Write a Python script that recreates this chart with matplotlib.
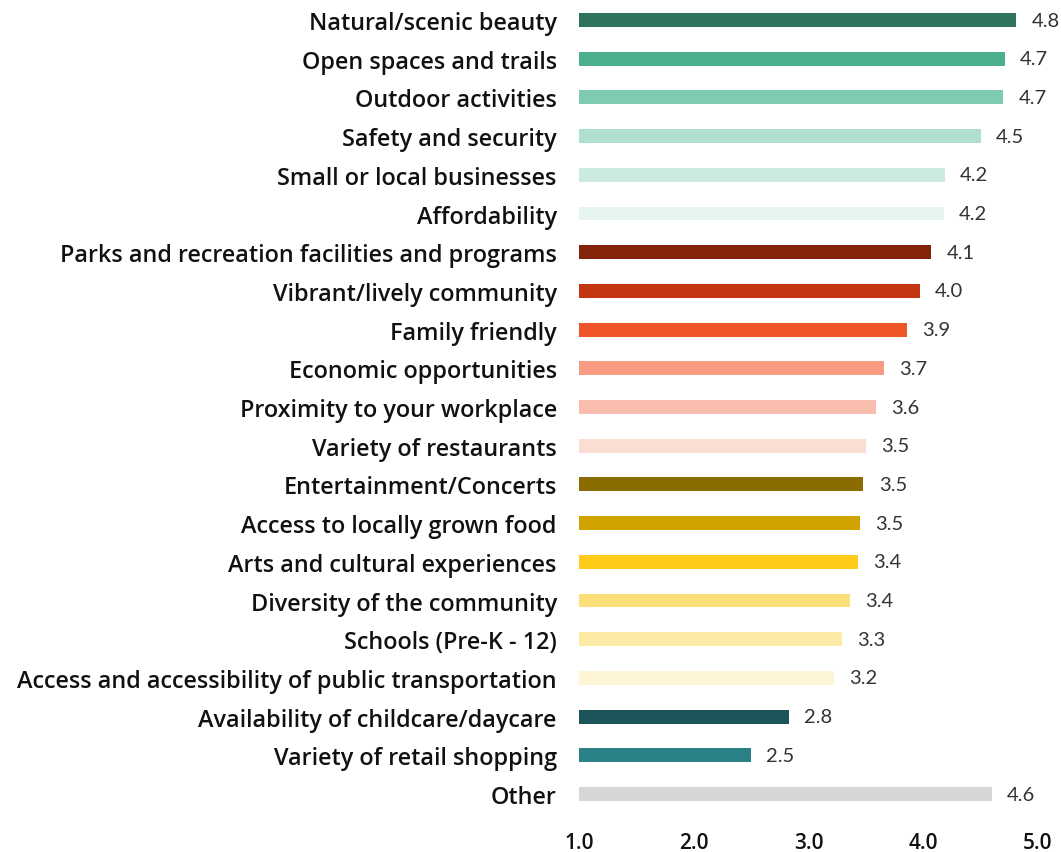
import matplotlib
matplotlib.use("Agg")
import matplotlib.pyplot as plt

categories = [
    "Natural/scenic beauty",
    "Open spaces and trails",
    "Outdoor activities",
    "Safety and security",
    "Small or local businesses",
    "Affordability",
    "Parks and recreation facilities and programs",
    "Vibrant/lively community",
    "Family friendly",
    "Economic opportunities",
    "Proximity to your workplace",
    "Variety of restaurants",
    "Entertainment/Concerts",
    "Access to locally grown food",
    "Arts and cultural experiences",
    "Diversity of the community",
    "Schools (Pre-K - 12)",
    "Access and accessibility of public transportation",
    "Availability of childcare/daycare",
    "Variety of retail shopping",
    "Other",
]

scores = [
    4.81, 4.71, 4.70, 4.50, 4.19, 4.18,
    4.07, 3.97, 3.86, 3.66, 3.59, 3.50,
    3.48, 3.45, 3.43, 3.36, 3.29, 3.22,
    2.83, 2.50, 4.60,
]

bar_colors = [
    "#2F735F", "#4AAE8F", "#7FCAB3", "#AFDFD0", "#CCEBE0", "#E5F4EF",
    "#84240A", "#C3360F", "#F0552A", "#F89B82", "#F8BDAC", "#FADED4",
    "#8A6C00", "#D0A300", "#FDCB18", "#FDDF7A", "#FDEBA5", "#FEF5D4",
    "#1C5459", "#2A8288", "#D6D6D6",
]

x_ticks = [1.0, 2.0, 3.0, 4.0, 5.0]

plt.rcParams["font.family"] = ["Open Sans", "DejaVu Sans"]

fig = plt.figure(figsize=(10.61, 8.53), dpi=100)
ax = fig.add_axes([0.5457, 0.0445, 0.4325, 0.9555])

base = 1.0
positions = list(range(len(categories)))
widths = [s - base for s in scores]
ax.barh(positions, widths, left=base, height=0.36, color=bar_colors, linewidth=0)

for y, s in zip(positions, scores):
    ax.annotate(f"{s:.1f}", xy=(s, y), xytext=(11, 0), textcoords="offset points",
                ha="left", va="center", fontsize=14.5, fontweight="normal",
                color="#333333", family=["Lato", "DejaVu Sans"])

ax.set_xlim(1.0, 5.0)
ax.set_ylim(20.517, -0.543)

ax.set_yticks(positions)
ax.set_yticklabels(categories, fontsize=16.8, fontweight="semibold", color="#111111")
ax.set_xticks(x_ticks)
ax.set_xticklabels([f"{t:.1f}" for t in x_ticks], fontsize=15, fontweight="semibold", color="#111111")

ax.tick_params(axis="y", length=0, pad=16)
ax.tick_params(axis="x", length=0, pad=13)
for sp in ax.spines.values():
    sp.set_visible(False)

fig.savefig("out.png", dpi=100, facecolor="white")
